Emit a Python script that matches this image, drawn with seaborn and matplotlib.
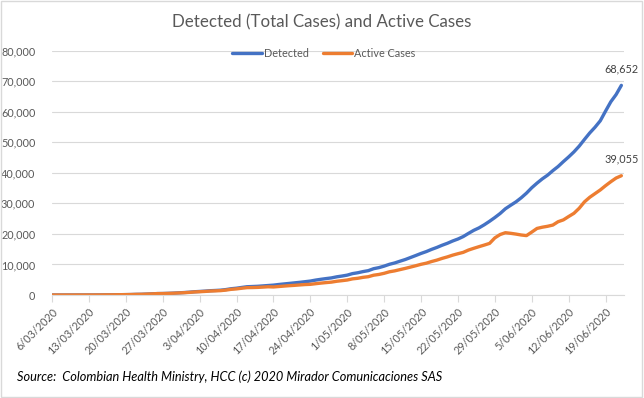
import pandas as pd
import matplotlib
matplotlib.use("Agg")
import matplotlib.pyplot as plt
import matplotlib.ticker as mticker
import seaborn as sns
from matplotlib.patches import Rectangle

# Datos diarios (6/03/2020 - 22/06/2020)
dates = pd.date_range("2020-03-06", "2020-06-22", freq="D")

detected = [
    1, 1, 1, 3, 3, 9, 9,
    13, 16, 24, 45, 57, 75, 102,
    128, 158, 210, 235, 306, 378, 470,
    491, 539, 608, 702, 798, 906, 1065,
    1161, 1267, 1406, 1485, 1579, 1780, 2054,
    2223, 2473, 2709, 2776, 2852, 2979, 3105,
    3233, 3439, 3621, 3792, 3977, 4149, 4356,
    4561, 4881, 5142, 5379, 5597, 5949, 6207,
    6507, 7006, 7285, 7668, 7973, 8613, 8959,
    9456, 10051, 10495, 11063, 11613, 12272, 12930,
    13610, 14216, 14939, 15574, 16295, 16935, 17687,
    18330, 19131, 20177, 21175, 21981, 23003, 24141,
    25366, 26688, 28236, 29383, 30493, 31833, 33354,
    35120, 36635, 38027, 39236, 40719, 42078, 43682,
    45212, 46858, 48746, 50939, 53063, 54931, 57046,
    60217, 63276, 65633, 68652,
]

active = [
    1, 1, 1, 3, 3, 9, 9,
    13, 16, 24, 45, 56, 73, 100,
    125, 154, 205, 229, 298, 368, 455,
    474, 519, 580, 664, 750, 846, 993,
    1075, 1165, 1289, 1355, 1432, 1612, 1861,
    1999, 2218, 2412, 2437, 2491, 2586, 2691,
    2630, 2775, 2918, 3052, 3162, 3296, 3420,
    3496, 3700, 3896, 4064, 4217, 4496, 4694,
    4904, 5284, 5473, 5787, 5991, 6482, 6726,
    7102, 7600, 7902, 8310, 8710, 9140, 9580,
    10050, 10420, 10960, 11420, 11990, 12480, 13050,
    13520, 13960, 14720, 15290, 15830, 16350, 16900,
    18700, 19800, 20400, 20200, 19950, 19650, 19450,
    20600, 21800, 22200, 22500, 22900, 24000, 24600,
    25700, 26750, 28400, 30500, 32000, 33200, 34400,
    35800, 37100, 38300, 39055,
]

tick_dates = pd.date_range("2020-03-06", periods=16, freq="7D")
tick_labels = [
    "6/03/2020", "13/03/2020", "20/03/2020", "27/03/2020", "3/04/2020",
    "10/04/2020", "17/04/2020", "24/04/2020", "1/05/2020", "8/05/2020",
    "15/05/2020", "22/05/2020", "29/05/2020", "5/06/2020", "12/06/2020",
    "19/06/2020",
]

series_names = ["Detected", "Active Cases"]
colors = {"Detected": "#4472C4", "Active Cases": "#ED7D31"}

df = pd.DataFrame({"date": dates, "Detected": detected, "Active Cases": active})
long_df = df.melt(id_vars="date", var_name="series", value_name="cases")

sns.set_theme(style="white")
plt.rcParams["font.family"] = ["Lato", "DejaVu Sans"]

grey = "#595959"
grid = "#D9D9D9"

fig = plt.figure(figsize=(6.44, 3.98), dpi=100)
ax = fig.add_axes([52 / 644, 1 - 295 / 398, (624 - 52) / 644, (295 - 50.7) / 398])

sns.lineplot(data=long_df, x="date", y="cases", hue="series", hue_order=series_names,
             palette=colors, linewidth=2.4, ax=ax)

# Ejes
ax.set_ylim(0, 80000)
ax.set_xlim(dates[0], dates[-1] + pd.Timedelta(hours=12))
ax.yaxis.set_major_locator(mticker.MultipleLocator(10000))
ax.yaxis.set_major_formatter(mticker.FuncFormatter(lambda v, p: f"{int(v):,}"))
ax.grid(axis="y", color=grid, linewidth=0.8)
ax.set_axisbelow(True)
for s in ["left", "right", "top"]:
    ax.spines[s].set_visible(False)
ax.spines["bottom"].set_color(grid)
ax.spines["bottom"].set_linewidth(0.8)
ax.set_xticks(tick_dates)
ax.set_xticklabels(tick_labels, rotation=45, ha="right", rotation_mode="anchor")
ax.tick_params(axis="x", length=5, color=grid, width=0.8, labelsize=7.8,
               labelcolor=grey, pad=3, bottom=True, direction="out")
ax.tick_params(axis="y", length=0, labelsize=7.8, labelcolor=grey, pad=12)
ax.set_xlabel("")
ax.set_ylabel("")

# Etiquetas de los ultimos valores
for name, vals in [("Detected", detected), ("Active Cases", active)]:
    ax.annotate(f"{vals[-1]:,}", xy=(dates[-1], vals[-1]), xytext=(0, 12),
                textcoords="offset points", ha="center", va="center",
                fontsize=7.8, color="#404040")

# Leyenda
handles, labels = ax.get_legend_handles_labels()
ax.legend(handles, labels, loc="center", bbox_to_anchor=(324 / 644, 1 - 53.3 / 398),
          bbox_transform=fig.transFigure, ncol=2, frameon=False, fontsize=7.8,
          handlelength=2.7, handletextpad=0.2, columnspacing=1.3, labelcolor=grey)

fig.text(0.5, 1 - 22.7 / 398, "Detected (Total Cases) and Active Cases",
         ha="center", va="center", fontsize=12.2, color=grey)
fig.text(17 / 644, 1 - 376.7 / 398,
         "Source:  Colombian Health Ministry, HCC (c) 2020 Mirador Comunicaciones SAS",
         ha="left", va="center", fontsize=9.2, style="italic", color="black")

fig.patches.append(Rectangle((0.002, 0.003), 0.995, 0.994, transform=fig.transFigure,
                             fill=False, edgecolor=grid, linewidth=1))

fig.savefig("out.png", dpi=100)
